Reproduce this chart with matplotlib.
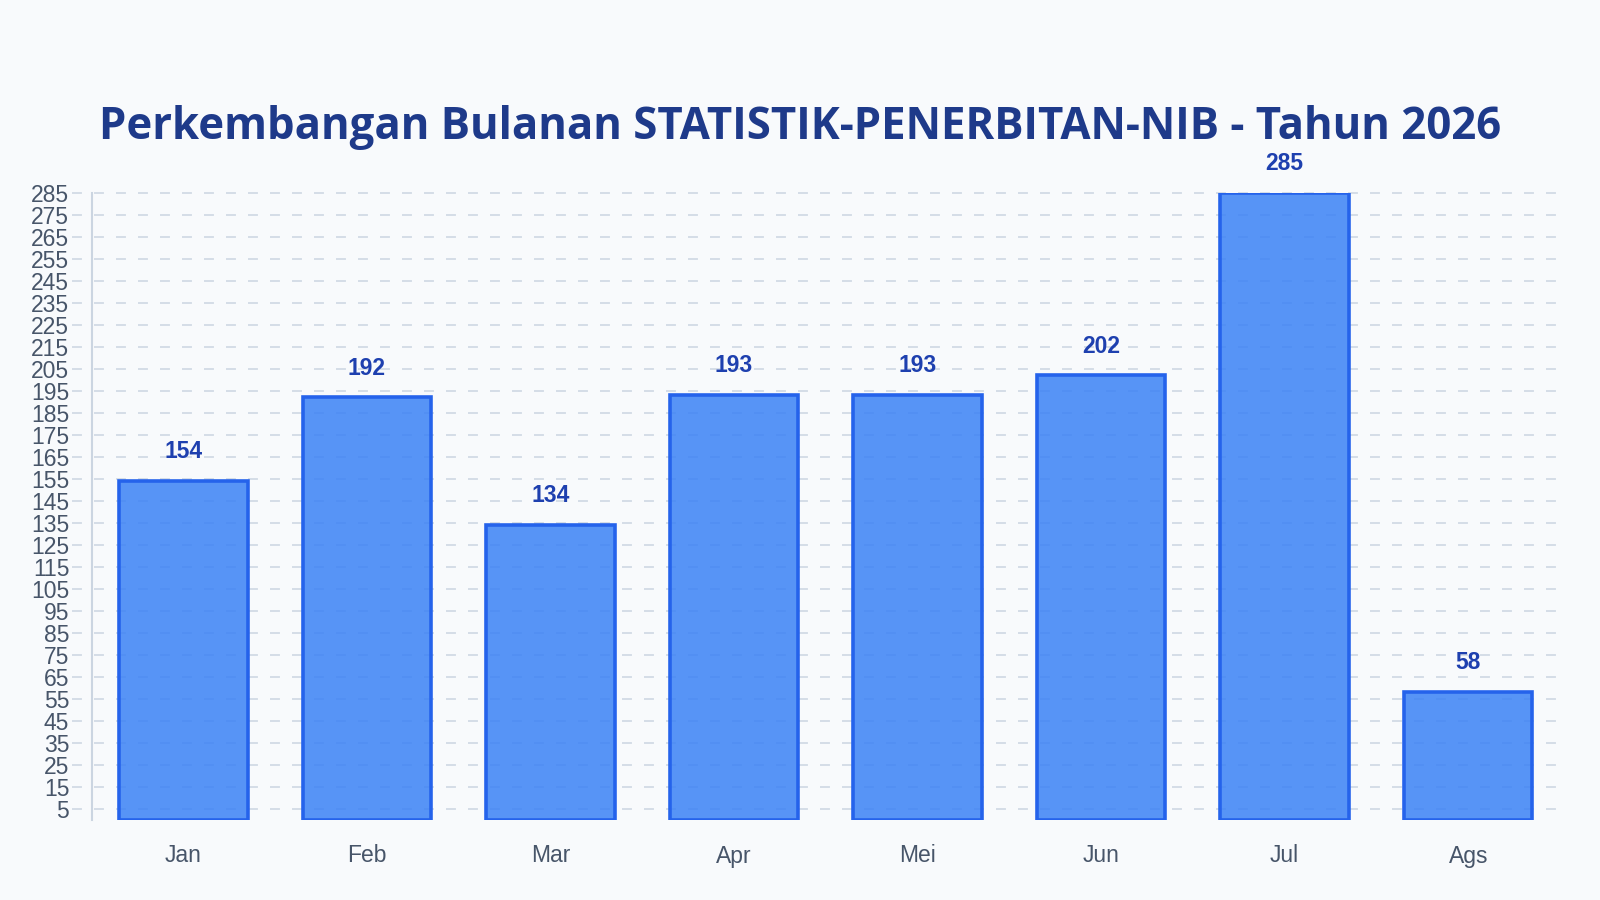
import matplotlib.pyplot as plt

# data
months = ["Jan", "Feb", "Mar", "Apr", "Mei", "Jun", "Jul", "Ags"]
values = [154, 192, 134, 193, 193, 202, 285, 58]
yticks = list(range(5, 286, 10))

title = "Perkembangan Bulanan STATISTIK-PENERBITAN-NIB - Tahun 2026"

bg = "#f8fafc"
grid_col = "#cbd5e1"
label_col = "#475569"

fig = plt.figure(figsize=(16, 9), dpi=100, facecolor=bg)
ax = fig.add_axes([91.5 / 1600, 1 - 819.5 / 900, (1560 - 91.5) / 1600, (819.5 - 192.7) / 900])
ax.set_facecolor(bg)

x = list(range(len(months)))
ax.set_xlim(-0.5, len(months) - 0.5)
ax.set_ylim(0, 285)

# dashed gridlines, running a bit past the left spine like the reference
ax.hlines(yticks, -0.5 - 20 / 183.6, len(months) - 0.5, colors=grid_col,
          linewidth=1.1, linestyles=(0, (6.5, 7.9)), clip_on=False, zorder=1)

ax.bar(x, values, width=0.7, color="#3b82f6", alpha=0.85, zorder=2)
ax.bar(x, values, width=0.7, facecolor="none", edgecolor="#2563eb",
       linewidth=2.6, zorder=3)

for xi, v in zip(x, values):
    ax.annotate(str(v), (xi, v), xytext=(0, 21), textcoords="offset points",
                ha="center", va="center", fontsize=16.5, fontweight="bold",
                color="#1e40af", family="Liberation Sans")

ax.set_xticks(x)
ax.set_xticklabels(months, family="Liberation Sans", fontsize=16.5, color=label_col)
ax.set_yticks(yticks)
ax.set_yticklabels([str(t) for t in yticks], family="Liberation Sans",
                   fontsize=16.5, color=label_col)
ax.tick_params(axis="x", length=0, pad=18)
ax.tick_params(axis="y", length=0, pad=16)

for side in ["top", "right", "bottom"]:
    ax.spines[side].set_visible(False)
ax.spines["left"].set_color(grid_col)
ax.spines["left"].set_linewidth(1.5)
ax.spines["left"].set_zorder(4)

fig.text(0.5, 1 - 128 / 900, title, ha="center", va="center",
         fontsize=31.5, fontweight="bold", color="#1e3a8a", family="Open Sans")

fig.savefig("out.png", dpi=100, facecolor=bg)
